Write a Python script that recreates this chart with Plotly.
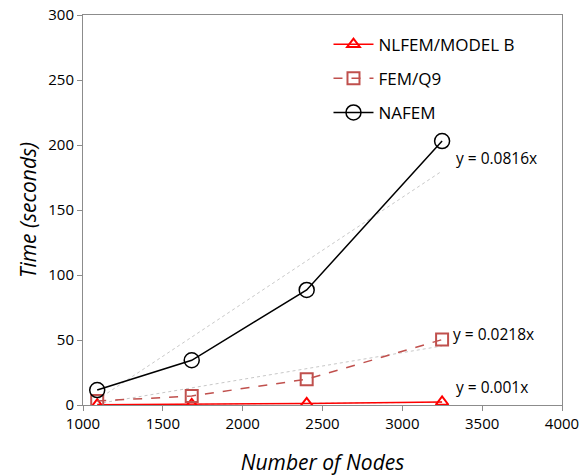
import plotly.graph_objects as go

nodes = [1089, 1681, 2401, 3249]
nlfem = [0.2, 0.5, 1.2, 2.3]
femq9 = [3.0, 7.0, 19.8, 50.3]
nafem = [11.5, 34.4, 88.5, 203.0]

trend_x = [1089, 3249]
trend_nafem = [4.0, 180.0]
trend_femq9 = [1.0, 45.4]
trend_nlfem = [0.0, 2.1]

eq_labels = ["y = 0.0816x", "y = 0.0218x", "y = 0.001x"]
eq_x = [3587, 3568, 3562]
eq_y = [190, 55, 14]

font_fam = "Open Sans, Liberation Sans, sans-serif"

fig = go.Figure()

for ty in [trend_nafem, trend_femq9, trend_nlfem]:
    fig.add_trace(go.Scatter(x=trend_x, y=ty, mode="lines", showlegend=False,
                             line=dict(color="#c8c8c8", width=1, dash="dot"),
                             hoverinfo="skip"))

fig.add_trace(go.Scatter(x=nodes, y=nlfem, name="NLFEM/MODEL B", mode="lines+markers",
                         legendgroup="a",
                         line=dict(color="#ff0000", width=1.5),
                         marker=dict(symbol="triangle-up-open", size=11, color="#ff0000",
                                     line=dict(width=2))))
fig.add_trace(go.Scatter(x=nodes, y=femq9, name="FEM/Q9", mode="lines+markers",
                         legendgroup="b",
                         line=dict(color="#c0504d", width=1.5, dash="dash"),
                         marker=dict(symbol="square-open", size=12, color="#c0504d",
                                     line=dict(width=2))))
fig.add_trace(go.Scatter(x=nodes, y=nafem, name="NAFEM", mode="lines+markers",
                         legendgroup="c",
                         line=dict(color="#000000", width=1.5),
                         marker=dict(symbol="circle-open", size=15, color="#000000",
                                     line=dict(width=1.5))))

for t, x, y in zip(eq_labels, eq_x, eq_y):
    fig.add_annotation(x=x, y=y, text=t, showarrow=False,
                       font=dict(size=15.5, color="#000000", family=font_fam),
                       xanchor="center", yanchor="middle")

axis_common = dict(showgrid=False, zeroline=False, showline=True, linecolor="#8c8c8c",
                   linewidth=1, mirror=True, ticks="outside", ticklen=5,
                   tickcolor="#8c8c8c", tickfont=dict(size=15), automargin=False)

fig.update_layout(
    width=586, height=476,
    margin=dict(l=83, r=24, t=15, b=71),
    plot_bgcolor="white", paper_bgcolor="white",
    font=dict(family=font_fam, color="#000000"),
    legend=dict(x=0.5125, y=0.97, xanchor="left", yanchor="top",
                font=dict(size=17, family=font_fam), bgcolor="rgba(0,0,0,0)",
                tracegroupgap=9, itemwidth=40),
    xaxis=dict(range=[1000, 4000], tickvals=[1000, 1500, 2000, 2500, 3000, 3500, 4000],
               title=dict(text="<i>Number of Nodes</i>", font=dict(size=21), standoff=26),
               **axis_common),
    yaxis=dict(range=[0, 300], tickvals=[0, 50, 100, 150, 200, 250, 300],
               title=dict(text="<i>Time (seconds)</i>", font=dict(size=21), standoff=5),
               **axis_common),
)

fig.write_html("out.html", config={"displayModeBar": False},
               post_script="document.body.style.margin='0';")
